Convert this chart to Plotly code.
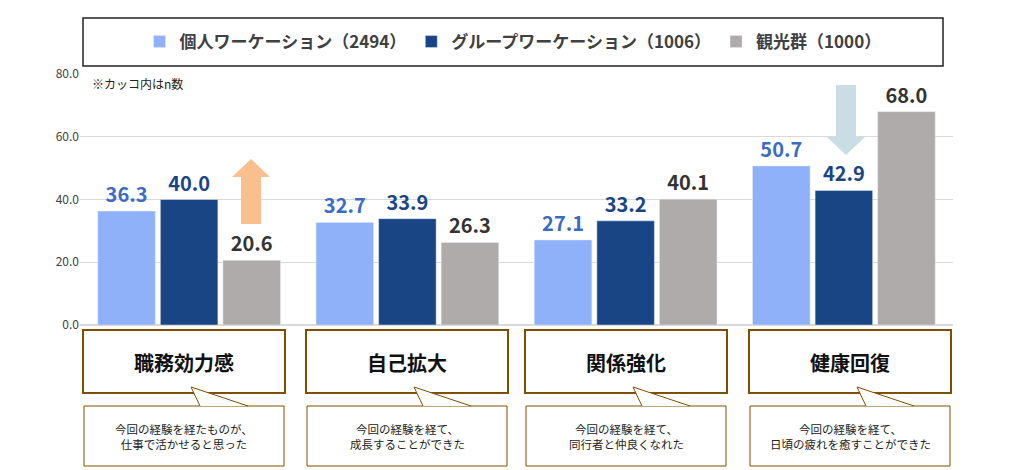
import plotly.graph_objects as go

categories = ["職務効力感", "自己拡大", "関係強化", "健康回復"]
series_names = ["個人ワーケーション（2494）", "グループワーケーション（1006）", "観光群（1000）"]
individual = [36.3, 32.7, 27.1, 50.7]
group = [40.0, 33.9, 33.2, 42.9]
tourism = [20.6, 26.3, 40.1, 68.0]
descriptions = ["今回の経験を経たものが、<br>仕事で活かせると思った",
                "今回の経験を経て、<br>成長することができた",
                "今回の経験を経て、<br>同行者と仲良くなれた",
                "今回の経験を経て、<br>日頃の疲れを癒すことができた"]
tick_vals = [0, 20, 40, 60, 80]

W, H = 1015, 470
L, R, T, B = 72, 945, 66, 317
def px(x): return (x - L) / (R - L)
def py(y): return (B - y) / (B - T)

FONT = "Noto Sans CJK JP"
colors = ["#8FB1FA", "#1A4585", "#AFABAB"]
tcolors = ["#3A6CC4", "#1A4585", "#333333"]

fig = go.Figure()
for name, vals, c, tc in zip(series_names, [individual, group, tourism], colors, tcolors):
    fig.add_bar(x=categories, y=vals, name=name, marker_color=c,
                text=[f"{v:.1f}" for v in vals], textposition="outside",
                textfont=dict(size=20, color=tc, family=FONT, weight="bold"),
                cliponaxis=False)

shapes = []
annotations = []
box_left = [75, 298, 517, 741]
brown = "#7F4F00"
for i, (cat, desc) in enumerate(zip(categories, descriptions)):
    x0 = box_left[i]; x1 = x0 + 202
    shapes.append(dict(type="rect", xref="paper", yref="paper", x0=px(x0), x1=px(x1),
                       y0=py(385), y1=py(322), line=dict(color=brown, width=2), fillcolor="white", layer="above"))
    shapes.append(dict(type="rect", xref="paper", yref="paper", x0=px(x0+1), x1=px(x1-1),
                       y0=py(458), y1=py(398), line=dict(color=brown, width=1), fillcolor="white", layer="above"))
    ax = x0 + 108
    path = f"M {px(ax+9)},{py(398)} L {px(ax)},{py(379)} L {px(ax+57)},{py(398)}"
    shapes.append(dict(type="path", xref="paper", yref="paper", path=path,
                       line=dict(color=brown, width=1), fillcolor="white", layer="above"))
    annotations.append(dict(xref="paper", yref="paper", x=px((x0+x1)/2), y=py(354), text=f"<b>{cat}</b>",
                            xanchor="center", yanchor="middle",
                            showarrow=False, font=dict(size=20, color="#111111", family=FONT)))
    annotations.append(dict(xref="paper", yref="paper", x=px((x0+x1)/2), y=py(428), text=desc,
                            xanchor="center", yanchor="middle",
                            showarrow=False, font=dict(size=11.5, color="#222222", family=FONT)))

def arrow(xc, ytail, ytip, color):
    sw, hw = 10, 19
    hb = ytip + (18 if ytip < ytail else -18)
    p = (f"M {px(xc-sw)},{py(ytail)} L {px(xc-sw)},{py(hb)} L {px(xc-hw)},{py(hb)} "
         f"L {px(xc)},{py(ytip)} L {px(xc+hw)},{py(hb)} L {px(xc+sw)},{py(hb)} L {px(xc+sw)},{py(ytail)} Z")
    return dict(type="path", xref="paper", yref="paper", path=p, fillcolor=color, line=dict(width=0), layer="above")
shapes.append(arrow(243, 216, 151, "#F9BF8F"))
shapes.append(arrow(838, 77, 147, "#C9DDE4"))

annotations.append(dict(xref="paper", yref="paper", x=px(82), y=py(76), xanchor="left", yanchor="middle",
                        text="※カッコ内はn数",
                        showarrow=False, font=dict(size=12, color="#222222", family=FONT)))
shapes.append(dict(type="rect", xref="paper", yref="paper", x0=px(75), x1=px(935), y0=py(58), y1=py(10),
                   line=dict(color="#222222", width=1.5), fillcolor="rgba(0,0,0,0)"))

fig.update_layout(
    width=W, height=H, margin=dict(l=L, r=W-R, t=T, b=H-B, autoexpand=False),
    plot_bgcolor="white", paper_bgcolor="white",
    barmode="group", bargap=0.14, bargroupgap=0.08,
    shapes=shapes, annotations=annotations,
    legend=dict(orientation="h", x=px(505), y=py(34), xanchor="center", yanchor="middle",
                font=dict(size=17, color="#404040", family=FONT, weight="bold"),
                traceorder="normal"),
    font=dict(family=FONT),
)
fig.update_xaxes(showticklabels=False, showline=False)
fig.update_yaxes(range=[0, 80], tickvals=tick_vals, tickformat=".1f", showgrid=True, gridcolor="#D9D9D9",
                 zeroline=True, zerolinecolor="#D9D9D9", tickfont=dict(size=12, color="#404040"), ticks="")
fig.write_html("out.html")
